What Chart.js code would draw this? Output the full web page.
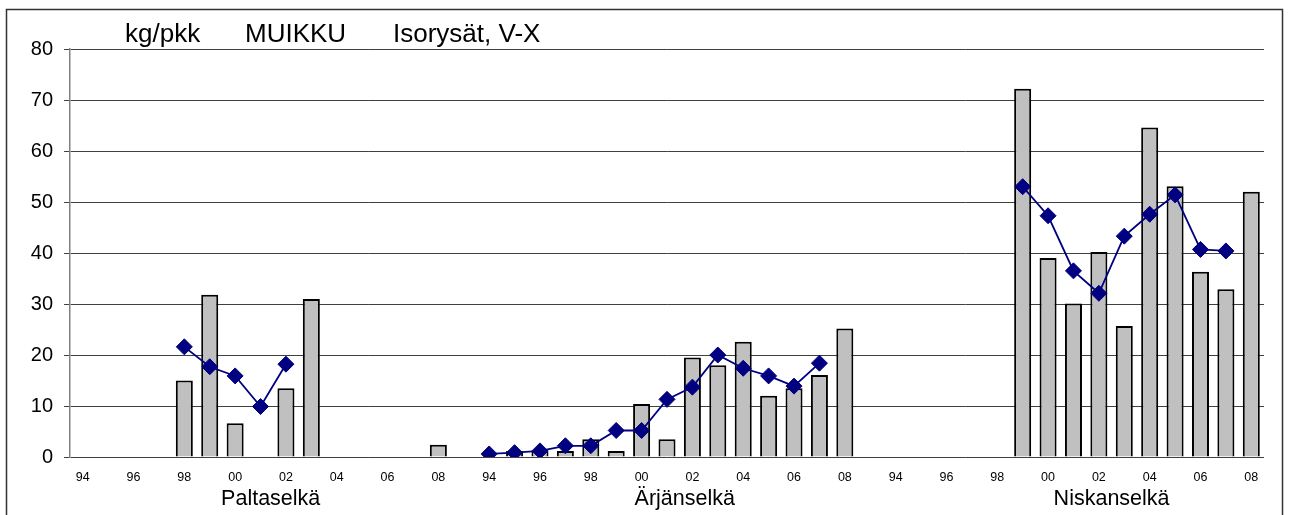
<!DOCTYPE html>
<html>
<head>
<meta charset="utf-8">
<script src="https://cdn.jsdelivr.net/npm/chart.js@4"></script>
<style>
  body { margin: 0; background: #fff; }
  canvas { display: block; }
</style>
</head>
<body>
<canvas id="grafico" width="1290" height="515"></canvas>
<script>
// vuodet joka ryhmässä
const vuodet = ["94","95","96","97","98","99","00","01","02","03","04","05","06","07","08"];
const alueet = ["Paltaselkä", "Ärjänselkä", "Niskanselkä"];
const otsikko = ["kg/pkk", "MUIKKU", "Isorysät, V-X"];
const yTicks = [0, 10, 20, 30, 40, 50, 60, 70, 80];

// pylväät (kg/pkk)
const paltaPylvas = [null, null, null, null, 15.0, 31.8, 6.6, null, 13.5, 31.0, null, null, null, null, 2.4];
const arjaPylvas  = [null, 1.2, 1.2, 1.2, 3.5, 1.2, 10.4, 3.5, 19.5, 18.0, 22.6, 12.0, 13.5, 16.1, 25.2];
const niskaPylvas = [null, null, null, null, null, 72.2, 39.0, 30.1, 40.2, 25.7, 64.6, 53.1, 36.3, 32.9, 52.0];

// viiva
const paltaViiva = [null, null, null, null, 21.6, 17.7, 15.9, 9.9, 18.2, null, null, null, null, null, null];
const arjaViiva  = [0.6, 0.85, 1.2, 2.2, 2.2, 5.2, 5.2, 11.3, 13.7, 20.0, 17.4, 15.9, 13.9, 18.4, null];
const niskaViiva = [null, null, null, null, null, 53.0, 47.3, 36.5, 32.1, 43.3, 47.6, 51.4, 40.7, 40.4, null];

// ryhmät yhteen, tyhjä sarake väliin
function yhdista(a, b, c) {
  return [...a, null, ...b, null, ...c];
}
const labels = [...vuodet, "", ...vuodet, "", ...vuodet];
const pylvaat = yhdista(paltaPylvas, arjaPylvas, niskaPylvas);
const viiva = yhdista(paltaViiva, arjaViiva, niskaViiva);

const FONTTI = "'Liberation Sans', Arial, sans-serif";

const piirto = {
  id: "piirto",
  beforeDraw(chart) {
    const ctx = chart.ctx;
    ctx.save();
    ctx.fillStyle = "#fff";
    ctx.fillRect(0, 0, chart.width, chart.height);
    ctx.strokeStyle = "#333";
    ctx.lineWidth = 1.5;
    ctx.strokeRect(6.5, 9.5, 1276, 700);
    ctx.restore();
  },
  afterDraw(chart) {
    const ctx = chart.ctx;
    const x = chart.scales.x;
    ctx.save();
    ctx.fillStyle = "#000";
    ctx.textBaseline = "alphabetic";
    // otsikko
    ctx.font = "26px " + FONTTI;
    ctx.textAlign = "left";
    const ox = [125, 245, 393];
    otsikko.forEach((t, i) => ctx.fillText(t, ox[i], 42));
    // alueiden nimet
    ctx.font = "21.5px " + FONTTI;
    ctx.textAlign = "center";
    const keskit = [7.4, 23.7, 40.5];
    alueet.forEach((t, i) => {
      const px = x.getPixelForDecimal((keskit[i] + 0.5) / labels.length);
      ctx.fillText(t, px, 505);
    });
    ctx.restore();
  }
};

new Chart(document.getElementById("grafico"), {
  data: {
    labels: labels,
    datasets: [
      {
        type: "line",
        data: viiva,
        order: 0,
        borderColor: "#000080",
        backgroundColor: "#000080",
        borderWidth: 1.8,
        pointStyle: "rectRot",
        pointRadius: 8,
        pointBorderWidth: 1,
        spanGaps: false
      },
      {
        type: "bar",
        data: pylvaat,
        order: 1,
        backgroundColor: "#c0c0c0",
        borderColor: "#000",
        borderWidth: 2,
        barPercentage: 0.67,
        categoryPercentage: 1
      }
    ]
  },
  options: {
    responsive: false,
    animation: false,
    layout: { padding: { top: 49, right: 26, left: 0, bottom: 0 } },
    plugins: {
      legend: { display: false },
      tooltip: { enabled: false }
    },
    scales: {
      x: {
        grid: { display: false, drawTicks: false },
        border: { display: false },
        ticks: {
          autoSkip: false,
          maxRotation: 0,
          padding: 13,
          color: "#000",
          font: { family: FONTTI, size: 12.5 },
          callback(v) {
            const l = this.getLabelForValue(v);
            return Number(l) % 2 === 0 ? l : "";
          }
        },
        afterFit(s) { s.height = 58; }
      },
      y: {
        min: 0,
        max: 80,
        afterBuildTicks(s) { s.ticks = yTicks.map(v => ({ value: v })); },
        grid: { color: "#404040", lineWidth: 1, tickLength: 6, drawTicks: true },
        border: { color: "#808080", width: 1.5 },
        ticks: {
          padding: 11,
          color: "#000",
          font: { family: FONTTI, size: 20 }
        },
        afterFit(s) { s.width = 70; }
      }
    }
  },
  plugins: [piirto]
});
</script>
</body>
</html>
